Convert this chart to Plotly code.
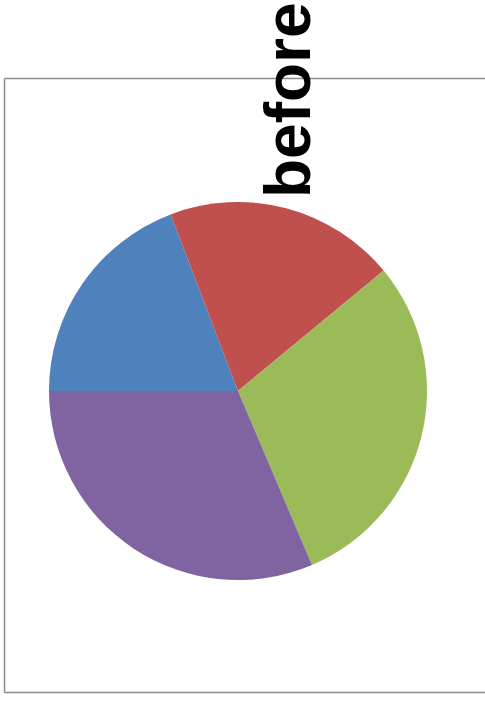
import plotly.graph_objects as go

labels = ["A", "B", "C", "D"]
values = [19.2, 19.8, 29.6, 31.4]
colors = ["#4F81BD", "#C0504D", "#9BBB59", "#8064A2"]
title_text = "before"

W, H = 485, 705
cx, cy, r = 238, 391, 189

fig = go.Figure(go.Pie(
    labels=labels,
    values=values,
    sort=False,
    direction="clockwise",
    rotation=270,
    marker=dict(colors=colors, line=dict(width=0)),
    textinfo="none",
    hoverinfo="label+value",
    showlegend=False,
    domain=dict(x=[(cx - r) / W, (cx + r) / W],
                y=[(H - cy - r) / H, (H - cy + r) / H]),
))

border = dict(color="#8c8c8c", width=1.5)
y_top = (H - 78.5) / H
y_bot = (H - 692.5) / H
x_left = 4.5 / W

fig.update_layout(
    width=W, height=H,
    margin=dict(l=0, r=0, t=0, b=0),
    paper_bgcolor="white",
    plot_bgcolor="white",
    shapes=[
        dict(type="line", xref="paper", yref="paper", x0=x_left, x1=x_left,
             y0=y_bot, y1=y_top, line=border, layer="below"),
        dict(type="line", xref="paper", yref="paper", x0=x_left, x1=1.0,
             y0=y_top, y1=y_top, line=border, layer="below"),
        dict(type="line", xref="paper", yref="paper", x0=x_left, x1=1.0,
             y0=y_bot, y1=y_bot, line=border, layer="below"),
    ],
    annotations=[dict(text="<b>" + title_text + "</b>", textangle=-90,
                      xref="paper", yref="paper",
                      x=288 / W, y=(H - 100) / H,
                      xanchor="center", yanchor="middle",
                      showarrow=False,
                      font=dict(family="Liberation Sans, Arial", size=64, color="black"))],
)

fig.write_html("out.html",
               config={"displayModeBar": False},
               post_script="document.body.style.margin='0';document.body.style.overflow='hidden';")
